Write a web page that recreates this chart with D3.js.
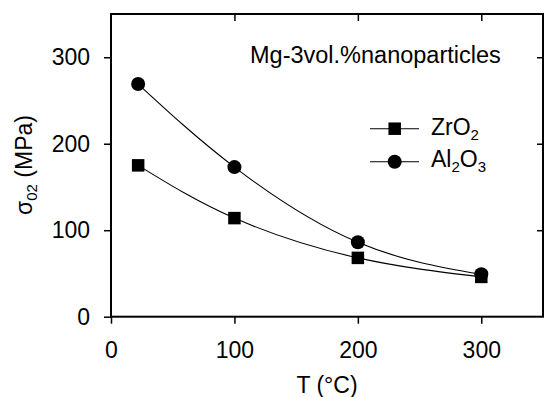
<!DOCTYPE html>
<html>
<head>
<meta charset="utf-8">
<script src="https://cdn.jsdelivr.net/npm/d3@7"></script>
<style>
  body { margin: 0; background: #fff; }
  svg { display: block; }
  text { font-family: "Liberation Sans", Arial, sans-serif; fill: #000; }
</style>
</head>
<body>
<svg id="chart" width="544" height="397"></svg>
<script>
const temps = [22, 100, 200, 300];
const zro2 = [175, 114, 68, 46];
const al2o3 = [269, 173, 86, 49];
const xTicks = [0, 100, 200, 300];
const yTicks = [0, 100, 200, 300];
const seriesNames = ["ZrO2", "Al2O3"];

const svg = d3.select("#chart");
const m = { left: 111, top: 14, right: 543, bottom: 316.7 };
const x = d3.scaleLinear().domain([0, 350]).range([m.left, m.right]);
const y = d3.scaleLinear().domain([0, 350]).range([m.bottom, m.top]);
const fs = 23;
const sub = 15;

// axes
const xAxis = svg.append("g").attr("transform", `translate(0,${m.bottom})`)
  .call(d3.axisBottom(x).tickValues(xTicks).tickSize(7).tickPadding(18).tickFormat(d3.format("d")));
const yAxis = svg.append("g").attr("transform", `translate(${m.left},0)`)
  .call(d3.axisLeft(y).tickValues(yTicks).tickSize(7).tickPadding(14).tickFormat(d3.format("d")));
const xTop = svg.append("g").attr("transform", `translate(0,${m.top})`)
  .call(d3.axisBottom(x).tickValues(xTicks.slice(1)).tickSize(7).tickFormat(""));
const yRight = svg.append("g").attr("transform", `translate(${m.right},0)`)
  .call(d3.axisLeft(y).tickValues(yTicks.slice(1)).tickSize(6).tickFormat(""));
[xAxis, yAxis, xTop, yRight].forEach(g => {
  g.select(".domain").remove();
  g.selectAll(".tick line").attr("stroke", "#000").attr("stroke-width", 1.5);
  g.selectAll(".tick text").attr("font-size", fs).attr("font-family", "Liberation Sans, Arial, sans-serif").attr("fill", "#000");
});

// frame
svg.append("rect").attr("x", m.left).attr("y", m.top)
  .attr("width", m.right - m.left).attr("height", m.bottom - m.top)
  .attr("fill", "none").attr("stroke", "#000").attr("stroke-width", 2);

// curves
const line = d3.line().x(d => x(d[0])).y(d => y(d[1])).curve(d3.curveNatural);
const zData = temps.map((t, i) => [t, zro2[i]]);
const aData = temps.map((t, i) => [t, al2o3[i]]);
[zData, aData].forEach(dd => {
  svg.append("path").datum(dd).attr("d", line).attr("fill", "none").attr("stroke", "#000").attr("stroke-width", 1.1);
});

const sq = 12.5, r = 7;
svg.append("g").selectAll("rect").data(zData).join("rect")
  .attr("x", d => x(d[0]) - sq / 2).attr("y", d => y(d[1]) - sq / 2)
  .attr("width", sq).attr("height", sq).attr("fill", "#000");
svg.append("g").selectAll("circle").data(aData).join("circle")
  .attr("cx", d => x(d[0])).attr("cy", d => y(d[1])).attr("r", r).attr("fill", "#000");

// title
svg.append("text").attr("x", 250).attr("y", 62.5).attr("font-size", 23.5).text("Mg-3vol.%nanoparticles");

// legend
const lg = svg.append("g");
const ly = [128.7, 161.7];
ly.forEach((yy, i) => {
  lg.append("line").attr("x1", 370).attr("x2", 419).attr("y1", yy).attr("y2", yy).attr("stroke", "#000").attr("stroke-width", 1.1);
  if (i === 0) lg.append("rect").attr("x", 394.7 - sq / 2).attr("y", yy - sq / 2).attr("width", sq).attr("height", sq).attr("fill", "#000");
  else lg.append("circle").attr("cx", 394.7).attr("cy", yy).attr("r", r).attr("fill", "#000");
});
const t1 = lg.append("text").attr("x", 431).attr("y", 135).attr("font-size", fs);
t1.append("tspan").text("ZrO");
t1.append("tspan").attr("font-size", sub).attr("dy", 5).text("2");
const t2 = lg.append("text").attr("x", 431).attr("y", 167.3).attr("font-size", fs);
t2.append("tspan").text("Al");
t2.append("tspan").attr("font-size", sub).attr("dy", 5).text("2");
t2.append("tspan").attr("dy", -5).text("O");
t2.append("tspan").attr("font-size", sub).attr("dy", 5).text("3");

// axis titles
svg.append("text").attr("x", (m.left + m.right) / 2).attr("y", 393).attr("text-anchor", "middle").attr("font-size", fs).text("T (°C)");
const yl = svg.append("text").attr("transform", `translate(32,165) rotate(-90)`).attr("text-anchor", "middle").attr("font-size", fs);
yl.append("tspan").text("σ");
yl.append("tspan").attr("font-size", sub).attr("dy", 5).text("02");
yl.append("tspan").attr("dy", -5).text(" (MPa)");
</script>
</body>
</html>
